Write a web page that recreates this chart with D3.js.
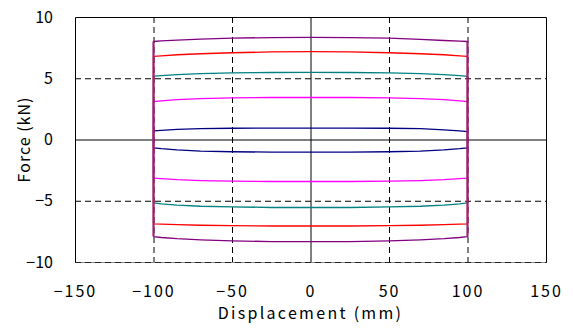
<!DOCTYPE html>
<html>
<head>
<meta charset="utf-8">
<script src="https://cdn.jsdelivr.net/npm/d3@7"></script>
<style>
  body { margin: 0; background: #fff; }
  text { font-family: "Noto Sans CJK JP", "DejaVu Sans", sans-serif; fill: #000; }
</style>
</head>
<body>
<svg id="chart" width="573" height="332"></svg>
<script>
// displacement stations along each branch (mm)
const disp = [-100, -95, -85, -70, -50, -25, 0, 25, 50, 70, 85, 95, 100];

// loop colours and force values (kN) on the upper / lower branch
const loopColors = ['#000080', '#ff00ff', '#008080', '#ff0000', '#800080'];
const upper = [
  [0.70, 0.75, 0.82, 0.88, 0.92, 0.93, 0.93, 0.93, 0.92, 0.88, 0.78, 0.70, 0.65],
  [3.10, 3.15, 3.25, 3.33, 3.40, 3.43, 3.43, 3.43, 3.40, 3.33, 3.25, 3.15, 3.10],
  [5.17, 5.22, 5.30, 5.38, 5.44, 5.47, 5.48, 5.47, 5.44, 5.38, 5.30, 5.22, 5.15],
  [6.78, 6.83, 6.92, 7.00, 7.08, 7.15, 7.18, 7.15, 7.08, 7.00, 6.92, 6.83, 6.78],
  [8.00, 8.05, 8.12, 8.20, 8.28, 8.32, 8.33, 8.32, 8.28, 8.18, 8.08, 8.03, 8.00]
];
const lower = [
  [-0.68, -0.75, -0.85, -0.95, -1.00, -1.03, -1.03, -1.03, -1.00, -0.95, -0.85, -0.75, -0.68],
  [-3.16, -3.20, -3.28, -3.35, -3.40, -3.43, -3.43, -3.43, -3.40, -3.35, -3.28, -3.20, -3.16],
  [-5.17, -5.25, -5.35, -5.45, -5.50, -5.55, -5.55, -5.55, -5.50, -5.45, -5.35, -5.25, -5.17],
  [-6.88, -6.90, -6.95, -7.00, -7.03, -7.06, -7.06, -7.06, -7.03, -7.00, -6.95, -6.90, -6.88],
  [-7.92, -8.00, -8.10, -8.20, -8.28, -8.33, -8.33, -8.33, -8.28, -8.20, -8.10, -8.00, -7.92]
];

const xTicks = [-150, -100, -50, 0, 50, 100, 150];
const yTicks = [-10, -5, 0, 5, 10];

const svg = d3.select('#chart');
const plotL = 75, plotR = 546, plotT = 17, plotB = 262;

const x = d3.scaleLinear().domain([-150, 150]).range([plotL, plotR]);
const y = d3.scaleLinear().domain([-10, 10]).range([plotB, plotT]);

// grid lines
const grid = svg.append('g');
xTicks.filter(d => d > -150 && d < 150).forEach(function (d) {
  grid.append('line')
    .attr('x1', x(d) + 0.5).attr('x2', x(d) + 0.5)
    .attr('y1', plotT).attr('y2', plotB)
    .attr('stroke', '#000')
    .attr('stroke-width', 1)
    .attr('stroke-dasharray', d === 0 ? null : '6,4');
});
yTicks.filter(d => d > -10 && d < 10).forEach(function (d) {
  grid.append('line')
    .attr('x1', plotL).attr('x2', plotR)
    .attr('y1', y(d) + 0.5).attr('y2', y(d) + 0.5)
    .attr('stroke', '#000')
    .attr('stroke-width', 1)
    .attr('stroke-dasharray', d === 0 ? null : '6,4');
});

// loops
const line = d3.line().x(d => x(d[0])).y(d => y(d[1]));
loopColors.forEach(function (c, i) {
  const pts = [];
  pts.push([disp[0], lower[i][0]]);
  disp.forEach((d, k) => pts.push([d, upper[i][k]]));
  for (let k = disp.length - 1; k >= 0; k--) pts.push([disp[k], lower[i][k]]);
  svg.append('path')
    .attr('d', line(pts))
    .attr('fill', 'none')
    .attr('stroke', c)
    .attr('stroke-width', 1.3)
    .attr('stroke-linejoin', 'round');
});

// side branches at +-100 look like a blended crimson-purple stroke
[-100, 100].forEach(function (d) {
  svg.append('line')
    .attr('x1', x(d)).attr('x2', x(d))
    .attr('y1', y(upper[4][0])).attr('y2', y(lower[4][0]))
    .attr('stroke', '#a01f70')
    .attr('stroke-width', 2);
});

// frame
svg.append('path')
  .attr('d', 'M' + (plotL + 0.5) + ',' + (plotB + 0.5) + 'V' + (plotT + 0.5) + 'H' + (plotR + 0.5) + 'V' + (plotB + 0.5))
  .attr('fill', 'none').attr('stroke', '#000').attr('stroke-width', 1);
svg.append('line')
  .attr('x1', plotL).attr('x2', plotR + 1)
  .attr('y1', plotB + 0.5).attr('y2', plotB + 0.5)
  .attr('stroke', '#888').attr('stroke-width', 1);
svg.append('line')
  .attr('x1', plotL).attr('x2', plotR + 1)
  .attr('y1', plotB + 0.5).attr('y2', plotB + 0.5)
  .attr('stroke', '#222').attr('stroke-width', 1)
  .attr('stroke-dasharray', '6,4');

// axes
const fmt = d => d3.format('d')(d).replace('-', '−');
const xAxis = svg.append('g').attr('transform', 'translate(0,' + plotB + ')')
  .call(d3.axisBottom(x).tickValues(xTicks).tickSize(0).tickPadding(24).tickFormat(fmt));
xAxis.select('.domain').remove();
xAxis.selectAll('text').attr('font-size', 16).style('letter-spacing', '2px');

const yAxis = svg.append('g').attr('transform', 'translate(' + plotL + ',0)')
  .call(d3.axisLeft(y).tickValues(yTicks).tickSize(0).tickPadding(22).tickFormat(fmt));
yAxis.select('.domain').remove();
yAxis.selectAll('text').attr('font-size', 16);

// axis titles
svg.append('text')
  .attr('x', (plotL + plotR) / 2).attr('y', 319)
  .attr('text-anchor', 'middle')
  .attr('font-size', 16)
  .style('letter-spacing', '2.3px')
  .text('Displacement (mm)');

svg.append('text')
  .attr('transform', 'translate(30,' + (plotT + plotB) / 2 + ') rotate(-90)')
  .attr('text-anchor', 'middle')
  .attr('font-size', 16)
  .style('letter-spacing', '1px')
  .text('Force (kN)');
</script>
</body>
</html>
